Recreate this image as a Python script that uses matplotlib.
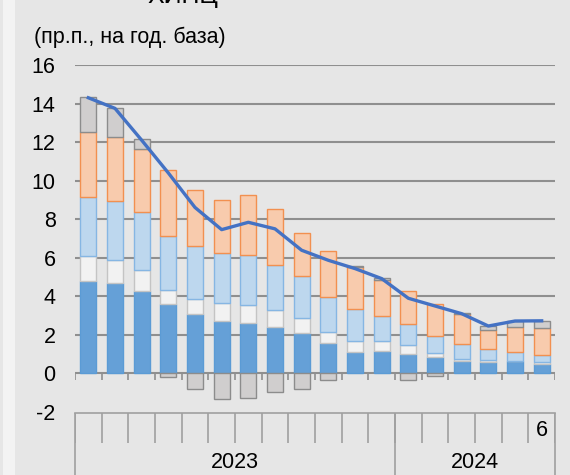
import numpy as np
import matplotlib.pyplot as plt
from matplotlib.patches import Rectangle

plt.rcParams['font.family'] = ['Liberation Sans', 'DejaVu Sans']
plt.rcParams['axes.unicode_minus'] = False

# 2023 Jan .. 2024 Jun, pp contributions to annual HICP inflation
months = ['', '', '', '', '', '', '', '', '', '', '', '',
          '', '', '', '', '', '6']
years = ['2023', '2024']
year_len = [12, 6]

dark_blue = [4.80, 4.71, 4.28, 3.60, 3.06, 2.74, 2.61, 2.41, 2.11, 1.59, 1.11, 1.14,
             1.00, 0.85, 0.62, 0.59, 0.64, 0.50]
white = [1.30, 1.19, 1.11, 0.71, 0.82, 0.91, 0.96, 0.88, 0.78, 0.56, 0.59, 0.56,
         0.49, 0.22, 0.14, 0.12, 0.02, 0.09]
light_blue = [3.06, 3.07, 2.97, 2.84, 2.73, 2.62, 2.56, 2.36, 2.15, 1.82, 1.62, 1.30,
              1.07, 0.87, 0.78, 0.57, 0.47, 0.35]
orange = [3.39, 3.29, 3.26, 3.40, 2.93, 2.75, 3.15, 2.87, 2.27, 2.38, 2.20, 1.87,
          1.72, 1.66, 1.56, 0.95, 1.30, 1.41]
gray = [1.80, 1.52, 0.52, -0.16, -0.80, -1.32, -1.28, -0.94, -0.80, -0.36, 0.05, 0.10,
        -0.36, -0.14, 0.05, 0.21, 0.29, 0.37]
total = [14.3, 13.75, 12.1, 10.4, 8.61, 7.46, 7.84, 7.50, 6.39, 5.87, 5.44, 4.92,
         3.90, 3.50, 3.10, 2.46, 2.72, 2.73]

bg = '#e6e6e6'
grid_c = '#8f8f8f'

W, H = 570, 475
fig = plt.figure(figsize=(5.7, 4.75), dpi=100, facecolor=bg)
fig.patches.append(Rectangle((3 / W, 0), 12 / W, 1, transform=fig.transFigure,
                             facecolor='#f3f3f3', edgecolor='none', zorder=-1))

ax = fig.add_axes([75 / W, 1 - 412 / H, 480 / W, 347 / H])
ax.set_facecolor(bg)
n = len(dark_blue)
x = np.arange(n) + 0.5
bw = 0.59

for v in range(0, 17, 2):
    ax.axhline(v, color=grid_c, lw=1.5, zorder=0)

segs = [(dark_blue, '#65a0d7', '#5b9bd5'),
        (white, '#f2f2f2', '#c4c4c4'),
        (light_blue, '#bdd7ee', '#86b6e3'),
        (orange, '#f8cbad', '#f29050')]
bottom = np.zeros(n)
for vals, fc, ec in segs:
    vals = np.array(vals)
    ax.bar(x, vals, bw, bottom=bottom, color=fc, edgecolor=ec, linewidth=1.0, zorder=2)
    bottom = bottom + vals

g = np.array(gray)
gbottom = np.where(g >= 0, bottom, 0)
ax.bar(x, g, bw, bottom=gbottom, color='#d0cece', edgecolor='#8c8c8c', linewidth=1.0, zorder=2)

ax.plot(x, total, color='#4472c4', lw=2.4, zorder=3)

# tick marks at zero line
ax.vlines(np.arange(n + 1), -0.36, 0, color=grid_c, lw=1.2, zorder=1)

ax.set_xlim(0, n)
ax.set_ylim(-2, 16)
ax.set_yticks(range(-2, 17, 2))
ax.tick_params(axis='y', length=0, pad=14, labelsize=15.5)
ax.set_xticks([])
for s in ax.spines.values():
    s.set_visible(False)

# category label box
cx = fig.add_axes([75 / W, 0, 480 / W, 63 / H])
cx.set_xlim(0, n)
cx.set_ylim(0, 63)
cx.axis('off')
lc = '#a0a0a0'
cx.plot([0, n], [62.5, 62.5], color=lc, lw=1.2, clip_on=False)
cx.vlines(np.arange(n + 1), 32, 62.5, color=lc, lw=1.2)
edges = np.concatenate([[0], np.cumsum(year_len)])
cx.vlines(edges, 0, 62.5, color=lc, lw=1.2, clip_on=False)
for i, m in enumerate(months):
    if m:
        cx.text(i + 0.5, 45, m, ha='center', va='center', fontsize=15.5)
for i, yr in enumerate(years):
    cx.text((edges[i] + edges[i + 1]) / 2, 13, yr, ha='center', va='center', fontsize=15.5)

fig.text(34 / W, 1 - 37 / H, '(пр.п., на год. база)', ha='left', va='center', fontsize=15.5)
fig.text(183 / W, 1 - 3.5 / H, 'ХИПЦ', ha='center', va='baseline', fontsize=18)

fig.savefig('out.png', dpi=100, facecolor=bg)
